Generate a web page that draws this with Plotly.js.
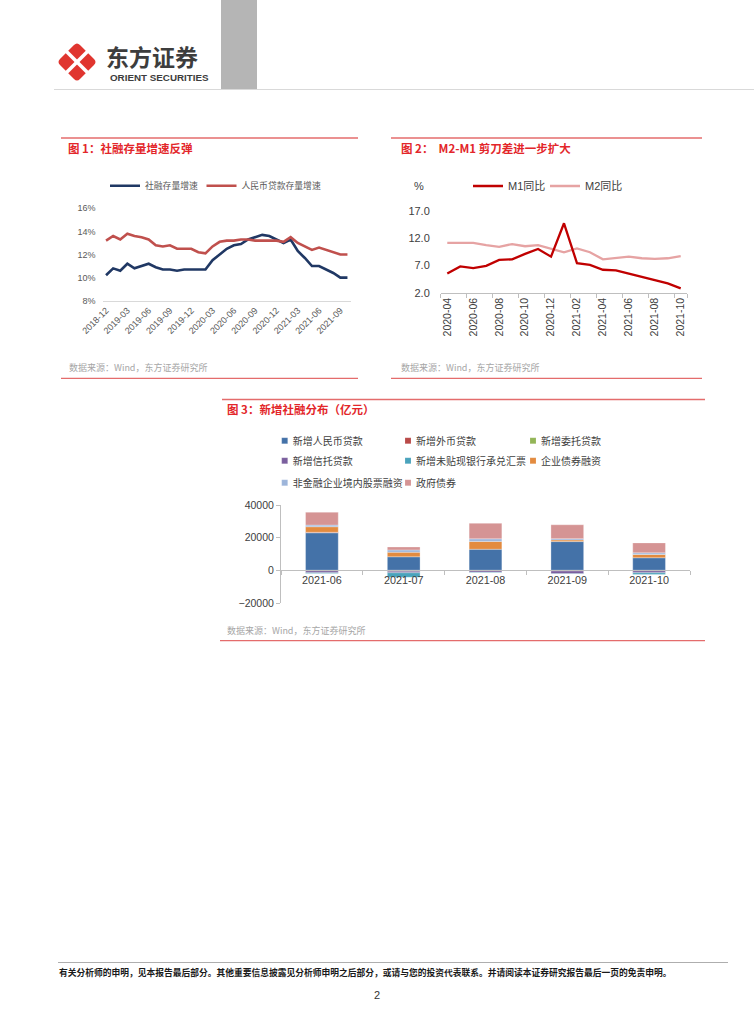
<!DOCTYPE html>
<html><head><meta charset="utf-8">
<script src="https://cdn.plot.ly/plotly-3.0.1.min.js"></script>
<style>
html,body{margin:0;padding:0;background:#fff;}
#chart{width:754px;height:1024px;}
</style></head>
<body><div id="chart"></div>
<script>
// ---------- DATA ----------
var months1 = ['2018-12','2019-01','2019-02','2019-03','2019-04','2019-05','2019-06','2019-07','2019-08','2019-09','2019-10','2019-11','2019-12',
  '2020-01','2020-02','2020-03','2020-04','2020-05','2020-06','2020-07','2020-08','2020-09','2020-10','2020-11','2020-12',
  '2021-01','2021-02','2021-03','2021-04','2021-05','2021-06','2021-07','2021-08','2021-09','2021-10'];
var tsfStockGrowth = [10.2,10.8,10.6,11.2,10.8,11.0,11.2,10.9,10.7,10.7,10.6,10.7,10.7,10.7,10.7,11.5,12.0,12.5,12.8,12.9,13.3,13.5,13.7,13.6,13.3,13.0,13.3,12.3,11.7,11.0,11.0,10.7,10.4,10.0,10.0];
var loanStockGrowth = [13.2,13.6,13.3,13.8,13.6,13.5,13.3,12.8,12.7,12.8,12.5,12.5,12.5,12.2,12.1,12.7,13.1,13.2,13.2,13.3,13.3,13.2,13.2,13.2,13.2,13.1,13.5,13.0,12.7,12.4,12.6,12.4,12.2,12.0,12.0];
var months1Ticks = ['2018-12','2019-03','2019-06','2019-09','2019-12','2020-03','2020-06','2020-09','2020-12','2021-03','2021-06','2021-09'];
var pctTickVals = [8,10,12,14,16];
var pctTickText = ['8%','10%','12%','14%','16%'];

var months2 = ['2020-04','2020-05','2020-06','2020-07','2020-08','2020-09','2020-10','2020-11','2020-12',
  '2021-01','2021-02','2021-03','2021-04','2021-05','2021-06','2021-07','2021-08','2021-09','2021-10'];
var m1Yoy = [5.5,6.8,6.5,6.9,8.0,8.1,9.1,10.0,8.6,14.7,7.4,7.1,6.2,6.1,5.5,4.9,4.2,3.7,2.8];
var m2Yoy = [11.1,11.1,11.1,10.7,10.4,10.9,10.5,10.7,10.1,9.4,10.1,9.4,8.1,8.3,8.6,8.3,8.2,8.3,8.7];
var months2Ticks = ['2020-04','2020-06','2020-08','2020-10','2020-12','2021-02','2021-04','2021-06','2021-08','2021-10'];

var months3 = ['2021-06','2021-07','2021-08','2021-09','2021-10'];
var rmbLoans      = [23000, 8300, 12900, 17600, 7700];
var fxLoans       = [300, -200, -100, -200, -200];
var entrustLoans  = [-300, -300, -100, -200, -100];
var trustLoans    = [-1200, -1000, -1000, -1700, -1200];
var bankAcceptance= [-500, -2800, -300, -200, -1000];
var corpBonds     = [3400, 2800, 4800, 1000, 2000];
var equityFin     = [1000, 1400, 1600, 800, 1000];
var govBonds      = [7900, 1800, 9500, 8500, 6100];
var seriesNames3 = ['新增人民币贷款','新增外币贷款','新增委托贷款','新增信托贷款','新增未贴现银行承兑汇票','企业债券融资','非金融企业境内股票融资','政府债券'];

// ---------- HELPERS ----------
var W = 754, H = 1024;
function X(p){ return p / W; }
function Y(p){ return 1 - p / H; }
var FONT = 'Liberation Sans, Noto Sans CJK SC, sans-serif';
var CJK = 'Noto Sans CJK SC, sans-serif';
function pathPx(s){
  return s.replace(/(-?\d+\.?\d*),(-?\d+\.?\d*)/g, function(m,a,b){ return X(+a).toFixed(5)+','+Y(+b).toFixed(5); });
}
function ann(text, px, py, size, color, extra){
  var a = {text:text, x:X(px), y:Y(py), xref:'paper', yref:'paper', xanchor:'left', yanchor:'middle',
    showarrow:false, font:{family:CJK, size:size, color:color}};
  if(extra){ for(var k in extra) a[k]=extra[k]; }
  return a;
}
function hline(x0,x1,y,color,w){
  return {type:'line', xref:'paper', yref:'paper', x0:X(x0), x1:X(x1), y0:Y(y), y1:Y(y), line:{color:color, width:w}};
}
function leg(px, py, size, color){
  return {x:X(px), y:Y(py), xref:'paper', yref:'paper', xanchor:'left', yanchor:'middle', orientation:'h',
    bgcolor:'rgba(0,0,0,0)', borderwidth:0, itemwidth:30, font:{family:FONT, size:size, color:color},
    itemclick:false, itemdoubleclick:false};
}

// ---------- TRACES ----------
var traces = [];
traces.push({type:'scatter', mode:'lines', x:months1, y:tsfStockGrowth, name:'社融存量增速',
  line:{color:'#203864', width:2.6}, xaxis:'x', yaxis:'y', legend:'legend', hoverinfo:'skip'});
traces.push({type:'scatter', mode:'lines', x:months1, y:loanStockGrowth, name:'人民币贷款存量增速',
  line:{color:'#C0504D', width:2.6}, xaxis:'x', yaxis:'y', legend:'legend2', hoverinfo:'skip'});

traces.push({type:'scatter', mode:'lines', x:months2, y:m2Yoy, name:'M2同比',
  line:{color:'#E6A3A3', width:2.3}, xaxis:'x2', yaxis:'y2', legend:'legend4', hoverinfo:'skip'});
traces.push({type:'scatter', mode:'lines', x:months2, y:m1Yoy, name:'M1同比',
  line:{color:'#C00000', width:2.3}, xaxis:'x2', yaxis:'y2', legend:'legend3', hoverinfo:'skip'});

var barSeries = [rmbLoans, fxLoans, entrustLoans, trustLoans, bankAcceptance, corpBonds, equityFin, govBonds];
var barColors = ['#4472A8','#B94A48','#93B557','#7B5F9E','#4AA3BC','#E38B3F','#9DB5DA','#D59494'];
var barLegends = ['legend5','legend6','legend7','legend8','legend9','legend10','legend11','legend12'];
for (var i=0;i<barSeries.length;i++){
  traces.push({type:'bar', x:months3, y:barSeries[i], name:seriesNames3[i], marker:{color:barColors[i], line:{color:'rgba(255,255,255,0.6)', width:0.5}},
    xaxis:'x3', yaxis:'y3', legend:barLegends[i], hoverinfo:'skip'});
}

// ---------- LAYOUT ----------
var sectionRed = '#E46C6C';
var layout = {
  width:W, height:H, margin:{l:0,r:0,t:0,b:0},
  paper_bgcolor:'#ffffff', plot_bgcolor:'rgba(0,0,0,0)',
  showlegend:true, barmode:'relative', bargap:0.6,
  font:{family:FONT},
  xaxis:{domain:[X(102.5), X(351)], anchor:'y', type:'category', range:[-0.5,34.5],
    tickmode:'array', tickvals:months1Ticks, ticktext:months1Ticks, tickangle:-45,
    tickfont:{family:FONT, size:9, color:'#595959'}, showline:true, linecolor:'#D9D9D9', linewidth:1,
    ticks:'', showgrid:false, zeroline:false, fixedrange:true},
  yaxis:{domain:[Y(300.7), Y(208.3)], anchor:'x', range:[8,16], tickmode:'array', tickvals:pctTickVals, ticktext:pctTickText,
    tickfont:{family:FONT, size:9, color:'#595959'}, showline:false, showgrid:false,
    zeroline:false, ticks:'', ticklabelstandoff:6, fixedrange:true},
  xaxis2:{domain:[X(440.8), X(687.2)], anchor:'y2', type:'category', range:[-0.5,18.5],
    tickmode:'array', tickvals:months2Ticks, ticktext:months2Ticks, tickangle:-90, tickson:'boundaries',
    tickfont:{family:FONT, size:10.5, color:'#404040'}, showline:true, linecolor:'#BFBFBF', linewidth:1,
    ticks:'outside', ticklen:4, tickcolor:'#BFBFBF', showgrid:false, zeroline:false, fixedrange:true},
  yaxis2:{domain:[Y(292.7), Y(210.7)], anchor:'x2', range:[2,17], tickmode:'array', tickvals:[2,7,12,17],
    tickformat:'.1f', tickfont:{family:FONT, size:11, color:'#404040'}, showline:false, showgrid:false,
    zeroline:false, ticks:'', ticklabelstandoff:10, fixedrange:true},
  xaxis3:{domain:[X(281), X(690)], anchor:'free', position:Y(570.3), type:'category', range:[-0.5,4.5],
    tickfont:{family:FONT, size:10.8, color:'#404040'}, showline:true, linecolor:'#BFBFBF', linewidth:1,
    ticks:'outside', ticklen:4, tickcolor:'#BFBFBF', tickson:'boundaries', showgrid:false, zeroline:false, fixedrange:true},
  yaxis3:{domain:[Y(603), Y(505)], anchor:'x3', range:[-20000,40000], tickmode:'array', tickvals:[-20000,0,20000,40000],
    tickformat:'d', tickfont:{family:FONT, size:10.5, color:'#404040'}, showline:true, linecolor:'#BFBFBF', linewidth:1,
    ticks:'outside', ticklen:4, tickcolor:'#BFBFBF', showgrid:false, zeroline:false, fixedrange:true},
  legend: leg(105, 185.7, 8.8, '#595959'),
  legend2: leg(201.5, 185.7, 8.8, '#595959'),
  legend3: leg(468, 186, 11, '#404040'),
  legend4: leg(545, 186, 11, '#404040'),
  legend5: leg(252.7, 440.7, 10, '#404040'),
  legend6: leg(376, 440.7, 10, '#404040'),
  legend7: leg(501, 440.7, 10, '#404040'),
  legend8: leg(252.7, 460.7, 10, '#404040'),
  legend9: leg(376, 460.7, 10, '#404040'),
  legend10: leg(501, 460.7, 10, '#404040'),
  legend11: leg(252.7, 482.7, 10, '#404040'),
  legend12: leg(376, 482.7, 10, '#404040'),
  shapes: [
    {type:'rect', xref:'paper', yref:'paper', x0:X(221), x1:X(257), y0:Y(0), y1:Y(89), fillcolor:'#B5B5B5', line:{width:0}},
    hline(54, 754, 89.5, '#D9D9D9', 1),
    {type:'path', xref:'paper', yref:'paper', path:pathPx('M74,45 Q77,42 80,45 L94,59 Q97,62 94,65 L80,79 Q77,82 74,79 L60,65 Q57,62 60,59 Z'),
      fillcolor:'#E0352F', line:{width:0}},
    {type:'line', xref:'paper', yref:'paper', x0:X(66), y0:Y(51), x1:X(88), y1:Y(73), line:{color:'#ffffff', width:3.5}},
    {type:'line', xref:'paper', yref:'paper', x0:X(88), y0:Y(51), x1:X(66), y1:Y(73), line:{color:'#ffffff', width:3.5}},
    hline(61, 358, 138, sectionRed, 1.3),
    hline(61, 358, 378.3, sectionRed, 1.3),
    hline(391, 702, 138, sectionRed, 1.3),
    hline(391, 702, 378.3, sectionRed, 1.3),
    hline(222, 705, 399.5, sectionRed, 1.3),
    hline(220, 705, 640.7, sectionRed, 1.3),
    hline(58, 728, 962.5, '#999999', 0.8)
  ],
  annotations: [
    ann('<b>东方证券</b>', 104, 55.5, 23, '#3D3D3D'),
    ann('<b>ORIENT SECURITIES</b>', 107.5, 77.5, 9.8, '#3D3D3D', {font:{family:'Liberation Sans, sans-serif', size:9.8, color:'#3D3D3D'}}),
    ann('<b>图 1：社融存量增速反弹</b>', 66, 148, 11.5, '#E3262A'),
    ann('<b>图 2：  M2-M1 剪刀差进一步扩大</b>', 399, 148, 11.5, '#E3262A'),
    ann('<b>图 3：新增社融分布（亿元）</b>', 225, 409, 11.5, '#E3262A'),
    ann('%', 412, 186, 11, '#404040', {font:{family:FONT, size:11, color:'#404040'}}),
    ann('数据来源：Wind，东方证券研究所', 67, 367, 9, '#A6A6A6'),
    ann('数据来源：Wind，东方证券研究所', 399, 367, 9, '#A6A6A6'),
    ann('数据来源：Wind，东方证券研究所', 225, 630, 9, '#A6A6A6'),
    ann('<b>有关分析师的申明，见本报告最后部分。其他重要信息披露见分析师申明之后部分，或请与您的投资代表联系。并请阅读本证券研究报告最后一页的免责申明。</b>', 57, 972, 8.75, '#1A1A1A'),
    ann('2', 377, 995, 11, '#333333', {xanchor:'center', font:{family:FONT, size:11, color:'#333333'}})
  ]
};

function shrinkBarLegendSymbols(gd){
  // shrink the bar-legend squares and move them next to their labels, as in the reference
  for (var k=0;k<barLegends.length;k++){
    var paths = gd.querySelectorAll('g.' + barLegends[k] + ' .legendpoints path');
    for (var j=0;j<paths.length;j++){
      var p = paths[j];
      var t = p.getAttribute('transform') || '';
      if (t.indexOf('translate') >= 0) p.setAttribute('transform', 'translate(32,0) scale(0.5)');
      else p.setAttribute('transform', 'translate(12,0) scale(0.5)');
    }
  }
}
var gdiv = document.getElementById('chart');
Plotly.newPlot(gdiv, traces, layout, {staticPlot:true, displayModeBar:false}).then(function(gd){
  shrinkBarLegendSymbols(gd);
  setTimeout(function(){ shrinkBarLegendSymbols(gd); }, 50);
});
</script>
</body></html>
